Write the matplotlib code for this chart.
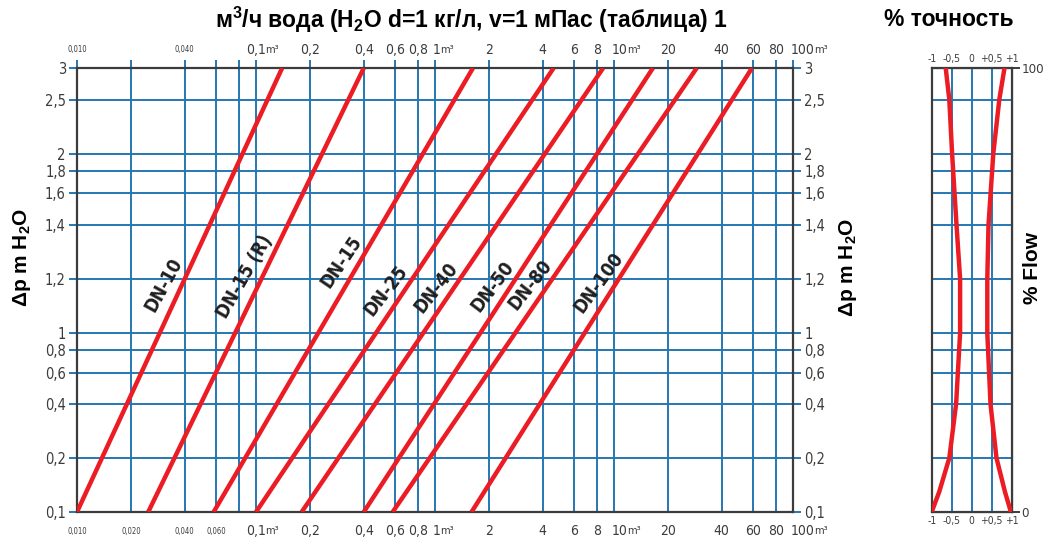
import numpy as np
import matplotlib
matplotlib.use('Agg')
import matplotlib.pyplot as plt

# flow (m3/h) where each meter line enters and leaves the chart
sizes = ['DN-10', 'DN-15 (R)', 'DN-15', 'DN-25', 'DN-40', 'DN-50', 'DN-80', 'DN-100']
flow_low = [0.010, 0.025, 0.058, 0.10, 0.18, 0.40, 0.58, 1.6]
flow_high = [0.14, 0.40, 1.63, 4.6, 8.7, 16.5, 29, 59]
dp_low, dp_high = 0.1, 30

# height (chart units) at which each name is written
label_dp = [1.85, 2.06, 2.49, 1.72, 1.78, 1.82, 1.85, 1.91]

x_ticks = [0.01, 0.02, 0.04, 0.06, 0.08, 0.1, 0.2, 0.4, 0.6, 0.8, 1, 2, 4, 6, 8,
           10, 20, 40, 60, 80, 100]
x_labels_bottom = ['0,010', '0,020', '0,040', '0,060', '', '0,1m³', '0,2', '0,4', '0,6',
                   '0,8', '1m³', '2', '4', '6', '8', '10m³', '20', '40', '60', '80', '100m³']
x_labels_top = ['0,010', '', '0,040', '', '', '0,1m³', '0,2', '0,4', '0,6',
                '0,8', '1m³', '2', '4', '6', '8', '10m³', '20', '40', '60', '80', '100m³']
y_ticks = [0.1, 0.2, 0.4, 0.6, 0.8, 1, 2, 4, 6, 8, 10, 20, 30]
y_labels = ['0,1', '0,2', '0,4', '0,6', '0,8', '1', '1,2', '1,4', '1,6', '1,8', '2', '2,5', '3']

# accuracy band (% of reading) against flow, same vertical scale as the main chart
acc_levels = [0.1, 0.13, 0.2, 0.4, 1, 2, 4, 10, 20, 30]
acc_minus = [-1.0, -0.81, -0.56, -0.39, -0.29, -0.29, -0.38, -0.49, -0.56, -0.65]
acc_plus = [0.98, 0.83, 0.62, 0.47, 0.39, 0.39, 0.42, 0.54, 0.69, 0.82]
acc_ticks = [-1, -0.5, 0, 0.5, 1]
acc_labels = ['-1', '-0,5', '0', '+0,5', '+1']

RED = '#ec1c24'
BLUE = '#2577b3'
DARK = '#3c3c3c'
BOLD = ['Liberation Sans', 'DejaVu Sans']

plt.rcParams['mathtext.fontset'] = 'custom'
plt.rcParams['mathtext.rm'] = 'Liberation Sans:bold'
plt.rcParams['mathtext.it'] = 'Liberation Sans:bold'
plt.rcParams['mathtext.bf'] = 'Liberation Sans:bold'
plt.rcParams['mathtext.default'] = 'rm'

fig = plt.figure(figsize=(10.45, 5.45), dpi=100)
ax = fig.add_axes([77 / 1045, 33 / 545, 716 / 1045, 444 / 545])
ax2 = fig.add_axes([931.7 / 1045, 33 / 545, 80 / 1045, 444 / 545])
renderer = fig.canvas.get_renderer()

# main chart
ax.set_xscale('log')
ax.set_yscale('log')
ax.set_xlim(0.01, 100)
ax.set_ylim(dp_low, dp_high)
ax.set_xticks(x_ticks)
ax.set_yticks(y_ticks, labels=y_labels)
ax.minorticks_off()
ax.grid(True, color=BLUE, lw=1.4)
ax.tick_params(axis='x', which='both', bottom=False, top=True, labelbottom=False,
               length=6, width=1.4, color=BLUE)
ax.tick_params(axis='y', which='both', left=True, right=True, labelleft=True, labelright=True,
               length=6, width=1.4, color=BLUE, pad=2, labelsize=10.5, labelcolor=DARK)
for lbl in ax.get_yticklabels():
    lbl.set_fontstretch('condensed')
for sp in ax.spines.values():
    sp.set_color(DARK)
    sp.set_linewidth(1.6)


def put_x_labels(labels, dy):
    # whole numbers with a unit start at their grid line, the rest are centred on it
    for xv, lab in zip(x_ticks, labels):
        if not lab:
            continue
        num = lab.replace('m³', '')
        size = 5.5 if num.startswith('0,0') else 10
        yf = 0 if dy < 0 else 1
        if lab.endswith('m³') and not num.startswith('0'):
            ha, dx = 'left', -1.5
        else:
            ha, dx = 'center', 0
        t = ax.annotate(num, xy=(xv, yf), xycoords=('data', 'axes fraction'),
                        xytext=(dx, dy), textcoords='offset points', ha=ha, va='center',
                        fontsize=size, color=DARK, fontstretch='condensed', annotation_clip=False)
        if lab.endswith('m³'):
            bb = t.get_window_extent(renderer)
            ax.annotate('m³', xy=(bb.x1, yf), xycoords=('figure pixels', 'axes fraction'),
                        xytext=(-0.5, dy), textcoords='offset points', ha='left', va='center',
                        fontsize=8, color=DARK, fontstretch='condensed', annotation_clip=False)


put_x_labels(x_labels_bottom, -14)
put_x_labels(x_labels_top, 13)

for name, q0, q1, yl in zip(sizes, flow_low, flow_high, label_dp):
    ax.plot([q0, q1], [dp_low, dp_high], color=RED, lw=3.2, solid_capstyle='butt', zorder=3)
    k = np.log(dp_high / dp_low) / np.log(q1 / q0)
    xl = q0 * (yl / dp_low) ** (1 / k)
    p0 = ax.transData.transform((q0, dp_low))
    p1 = ax.transData.transform((q1, dp_high))
    ang = np.degrees(np.arctan2(p1[1] - p0[1], p1[0] - p0[0])) - 4
    ax.annotate(name, xy=(xl, yl), xytext=(-13, 0), textcoords='offset points',
                rotation=ang, rotation_mode='anchor', ha='center', va='center',
                fontsize=13.5, fontweight='bold', fontstretch='condensed', color='#1e1e1e', zorder=4)

# accuracy panel
ax2.set_yscale('log')
ax2.set_ylim(dp_low, dp_high)
ax2.set_xlim(-1, 1)
ax2.set_yticks(y_ticks[1:-1])
ax2.minorticks_off()
ax2.set_xticks(acc_ticks[1:-1])
ax2.grid(True, color=BLUE, lw=1.4)
ax2.tick_params(length=0, labelleft=False, labelbottom=False)
ax2.plot(acc_minus, acc_levels, color=RED, lw=3.2, zorder=3)
ax2.plot(acc_plus, acc_levels, color=RED, lw=3.2, zorder=3)
for sp in ax2.spines.values():
    sp.set_color(DARK)
    sp.set_linewidth(1.6)

for loc in ('top', 'bottom'):
    sx = ax2.secondary_xaxis(loc)
    sx.set_xticks(acc_ticks, labels=acc_labels)
    sx.tick_params(length=0, pad=3, labelsize=7.5, labelcolor=DARK)
    for lbl in sx.get_xticklabels():
        lbl.set_fontstretch('condensed')
ax2r = ax2.secondary_yaxis('right')
ax2r.set_yticks([dp_low, dp_high], labels=['0', '100'])
ax2r.minorticks_off()
ax2r.tick_params(length=6, width=1.4, color=DARK, pad=1, labelsize=9.5, labelcolor=DARK)
for lbl in ax2r.get_yticklabels():
    lbl.set_fontstretch('condensed')

# titles and axis names
fig.text(471 / 1045, 1 - 20 / 545, r'м$^3$/ч вода (H$_2$O d=1 кг/л, v=1 мПас (таблица) 1',
         ha='center', va='center', fontsize=16.5, fontweight='bold', family=BOLD)
fig.text(949 / 1045, 1 - 20 / 545, '% точность', ha='center', va='center',
         fontsize=16.5, fontweight='bold', family=BOLD)
fig.text(22 / 1045, 1 - 257 / 545, r'$\Delta$p m H$_2$O', ha='center', va='center',
         rotation=90, fontsize=15, fontweight='bold', family=BOLD)
fig.text(848 / 1045, 1 - 267 / 545, r'$\Delta$p m H$_2$O', ha='center', va='center',
         rotation=90, fontsize=15, fontweight='bold', family=BOLD)
fig.text(1032 / 1045, 1 - 268 / 545, '% Flow', ha='center', va='center',
         rotation=90, fontsize=15, fontweight='bold', family=BOLD)

fig.savefig('out.png', dpi=100)
